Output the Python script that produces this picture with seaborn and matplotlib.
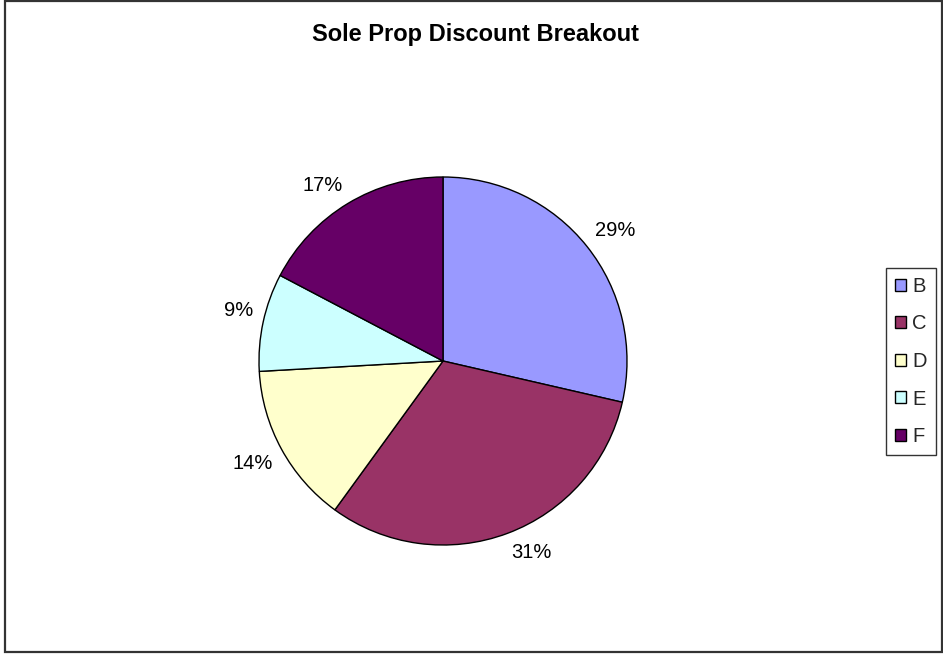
import matplotlib
matplotlib.use("Agg")
import numpy as np
import matplotlib.pyplot as plt
from matplotlib.patches import Rectangle
import seaborn as sns

categories = ["B", "C", "D", "E", "F"]
shares = [28.6, 31.4, 14.1, 8.6, 17.3]
colors = ["#9999FF", "#993366", "#FFFFCC", "#CCFFFF", "#660066"]
title = "Sole Prop Discount Breakout"

sns.set_theme(style="white")
plt.rcParams["font.family"] = ["Liberation Sans", "DejaVu Sans"]
palette = sns.color_palette(colors)

W, H = 943, 655
fig = plt.figure(figsize=(W / 100, H / 100), dpi=100)
fig.patch.set_facecolor("white")

cx, cy, r = 443, 361, 184
ax = fig.add_axes([(cx - r) / W, (H - cy - r) / H, 2 * r / W, 2 * r / H])
wedges, texts, autotexts = ax.pie(
    shares,
    colors=palette,
    startangle=90,
    counterclock=False,
    autopct=lambda p: f"{p:.0f}%",
    pctdistance=1.19,
    wedgeprops=dict(edgecolor="black", linewidth=1.0),
    textprops=dict(fontsize=14.5, color="black"),
    radius=1.0,
)
# place each percentage label just outside the rim, box corner nearest the pie
gap = 1.0 + 10.0 / r
for w, t in zip(wedges, autotexts):
    mid = np.deg2rad((w.theta1 + w.theta2) / 2.0)
    c, s = np.cos(mid), np.sin(mid)
    t.set_position((gap * c, gap * s))
    t.set_ha("left" if c >= 0 else "right")
    t.set_va("bottom" if s >= 0 else "top")

ax.set_xlim(-1, 1)
ax.set_ylim(-1, 1)
ax.set_aspect("equal")
ax.axis("off")

fig.text(475 / W, 1 - 34 / H, title, ha="center", va="center",
         fontsize=17, fontweight="bold", color="black")

leg = fig.legend(
    wedges, categories,
    loc="center left",
    bbox_to_anchor=(886 / W, 1 - 361.5 / H),
    frameon=True,
    fancybox=False,
    fontsize=14.5,
    handlelength=0.55,
    handleheight=0.55,
    handletextpad=0.3,
    labelspacing=0.92,
    borderpad=0.45,
    borderaxespad=0,
)
leg.get_frame().set_edgecolor("black")
leg.get_frame().set_linewidth(1.0)

fig.patches.append(Rectangle((4.5 / W, 1 - 652 / H), (941.5 - 4.5) / W, (652 - 0.8) / H,
                             transform=fig.transFigure, fill=False,
                             edgecolor="#333333", linewidth=1.6))

fig.savefig("out.png", dpi=100, facecolor="white")
